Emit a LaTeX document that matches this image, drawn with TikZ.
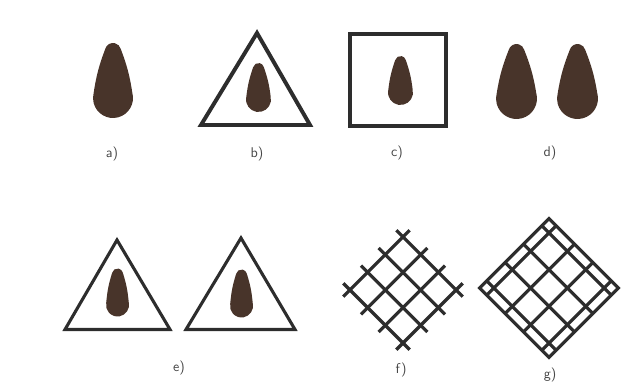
\documentclass[tikz,border=0pt]{standalone}
\usepackage{tikz}
\usetikzlibrary{calc}
\definecolor{marron}{RGB}{72,52,42}
\definecolor{trazo}{RGB}{45,45,45}
\definecolor{letra}{RGB}{70,70,70}
\tikzset{
    gota/.style={fill=marron},
    marco/.style={draw=trazo, line width=2.8pt},
    marcofino/.style={draw=trazo, line width=2.2pt},
    rejilla/.style={draw=trazo, line width=2.3pt},
    etiqueta/.style={font=\sffamily, text=letra}
}
% gota: x, y (centro inferior), R, r, h
\newcommand{\gota}[5]{%
    \pgfmathsetmacro\angGota{asin((#3-#4)/#5)}
    \fill[gota] ($(#1,#2)+(\angGota:#3)$)
        arc[start angle=\angGota, end angle=-180-\angGota, radius=#3]
        to[bend left=6] ($(#1,#2+#5)+(180-\angGota:#4)$)
        arc[start angle=180-\angGota, end angle=\angGota, radius=#4]
        to[bend left=6] ($(#1,#2)+(\angGota:#3)$)
        -- cycle;
}

\begin{document}
\begin{tikzpicture}[
    x=0.025cm,
    y=0.025cm
]
    \useasboundingbox (0,0) rectangle (621,387);

    % a)
    \gota{113}{289}{20}{8}{47}
    \node[etiqueta] (la) at (112,233) {a)};

    % b)
    \draw[marco] (257,354) -- (310,262) -- (201,262) -- cycle;
    \gota{258.5}{287.5}{12.5}{5.5}{31}
    \node[etiqueta] (lb) at (257,233) {b)};

    % c)
    \draw[marco] (350,261) rectangle (446,353);
    \gota{400.5}{294.5}{12.5}{5.5}{31}
    \node[etiqueta] (lc) at (397,234) {c)};

    % d)
    \gota{516.5}{288.5}{20.5}{8}{46.5}
    \gota{577.5}{288.5}{20.5}{8}{46.5}
    \node[etiqueta] (ld) at (550,234) {d)};

    % e)
    \draw[marcofino] (117,147) -- (170,57.5) -- (65,57.5) -- cycle;
    \draw[marcofino] (241,149) -- (295,57.5) -- (186,57.5) -- cycle;
    \gota{117.5}{82}{11.5}{5.5}{31}
    \gota{241.5}{81}{11.5}{5.5}{31}
    \node[etiqueta] (le) at (179,19) {e)};

    % f)
    \begin{scope}[shift={(403,97)}, rotate=45]
        \foreach \p in {-37.5,-12.5,12.5,37.5} {
            \draw[rejilla] (\p,-47) -- (\p,47);
            \draw[rejilla] (-47,\p) -- (47,\p);
        }
    \end{scope}
    \node[etiqueta] (lf) at (401,17) {f)};

    % g)
    \begin{scope}[shift={(549,99)}, rotate=45]
        \foreach \p in {-39,-13,13,39} {
            \draw[rejilla] (\p,-49) -- (\p,49);
            \draw[rejilla] (-49,\p) -- (49,\p);
        }
        \draw[rejilla] (-49,-49) rectangle (49,49);
    \end{scope}
    \node[etiqueta] (lg) at (550,12) {g)};

\end{tikzpicture}
\end{document}
